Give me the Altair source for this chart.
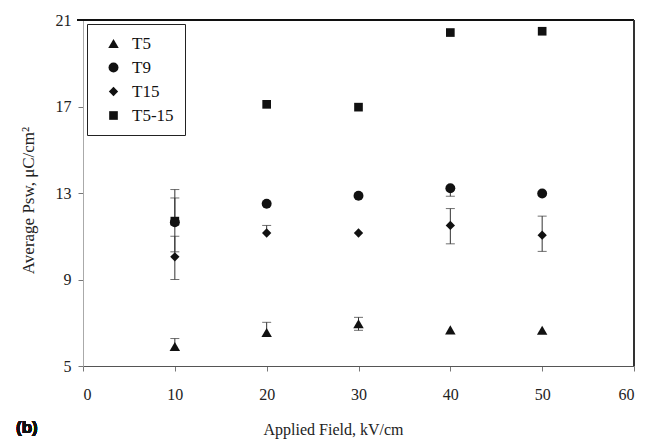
import altair as alt
import pandas as pd

# Applied field (kV/cm) and average switchable polarization per sample
fields = [10, 20, 30, 40, 50]
series = ["T5", "T9", "T15", "T5-15"]
shapes = ["triangle-up", "circle", "diamond", "square"]
sizes = [110, 75, 110, 65]

t5 = [5.9, 6.55, 6.95, 6.67, 6.65]
t9 = [11.65, 12.5, 12.87, 13.22, 12.98]
t15 = [10.05, 11.15, 11.15, 11.5, 11.05]
t5_15 = [11.7, 17.1, 16.97, 20.42, 20.48]

# error bar extents above / below each mean
t5_up = [0.37, 0.47, 0.3, 0.0, 0.0]
t5_dn = [0.0, 0.0, 0.3, 0.0, 0.0]
t9_up = [1.12, 0.0, 0.0, 0.0, 0.0]
t9_dn = [0.0, 0.0, 0.0, 0.37, 0.0]
t15_up = [0.95, 0.35, 0.0, 0.78, 0.88]
t15_dn = [1.05, 0.0, 0.0, 0.85, 0.75]
t5_15_up = [1.46, 0.0, 0.0, 0.0, 0.0]
t5_15_dn = [1.42, 0.0, 0.0, 0.0, 0.0]

values = [t5, t9, t15, t5_15]
ups = [t5_up, t9_up, t15_up, t5_15_up]
dns = [t5_dn, t9_dn, t15_dn, t5_15_dn]

rows, bars, caps = [], [], []
for name, vals, up, dn in zip(series, values, ups, dns):
    for f, v, u, d in zip(fields, vals, up, dn):
        rows.append({"field": f, "p": v, "sample": name})
        if u > 0 or d > 0:
            bars.append({"field": f, "lo": v - d, "hi": v + u})
        if u > 0:
            caps.append({"field": f, "cap": v + u})
        if d > 0:
            caps.append({"field": f, "cap": v - d})

pts = pd.DataFrame(rows)
err = pd.DataFrame(bars)
cap = pd.DataFrame(caps)

SERIF = "Liberation Serif"

x_scale = alt.Scale(domain=[0, 60], nice=False)
y_scale = alt.Scale(domain=[5, 21], nice=False, zero=False)

x_axis = alt.Axis(
    values=[0, 10, 20, 30, 40, 50, 60], grid=False, title="Applied Field, kV/cm",
    labelFont=SERIF, labelFontSize=16, labelColor="#222", labelPadding=15,
    tickSize=5, tickColor="#777", domainColor="#555", domainWidth=1.2,
    titleFont=SERIF, titleFontSize=16, titleFontWeight="normal", titleColor="#222",
    titleX=250, titleY=68, titleBaseline="alphabetic", titleAnchor="middle",
)
y_axis = alt.Axis(
    values=[5, 9, 13, 17, 21], grid=False, title="Average Psw, μC/cm²",
    labelFont=SERIF, labelFontSize=16, labelColor="#222", labelPadding=7,
    tickSize=5, tickColor="#777", domainColor="#aaa", domainWidth=1,
    titleFont=SERIF, titleFontSize=17, titleFontWeight="normal", titleColor="#222",
    titleX=-50, titleY=180, titleAngle=-90, titleBaseline="alphabetic",
)

whiskers = alt.Chart(err).mark_rule(color="#333", strokeWidth=1).encode(
    x=alt.X("field:Q", scale=x_scale, axis=x_axis),
    y=alt.Y("lo:Q", scale=y_scale, axis=y_axis),
    y2="hi:Q",
)

whisker_caps = alt.Chart(cap).mark_tick(
    orient="horizontal", color="#333", size=9, thickness=1
).encode(
    x=alt.X("field:Q", scale=x_scale, axis=x_axis),
    y=alt.Y("cap:Q", scale=y_scale, axis=y_axis),
)

sample_legend = alt.Legend(
    title=None, orient="none", legendX=4, legendY=4,
    fillColor="white", strokeColor="#222",
    padding=11, rowPadding=6, symbolOffset=7,
    labelFont=SERIF, labelFontSize=17, labelColor="#111", labelOffset=10,
    symbolFillColor="#111", symbolStrokeColor="#111",
)

points = alt.Chart(pts).mark_point(filled=True, color="#111", opacity=1).encode(
    x=alt.X("field:Q", scale=x_scale, axis=x_axis),
    y=alt.Y("p:Q", scale=y_scale, axis=y_axis),
    shape=alt.Shape("sample:N", scale=alt.Scale(domain=series, range=shapes),
                    legend=sample_legend),
    size=alt.Size("sample:N", scale=alt.Scale(domain=series, range=sizes),
                  legend=sample_legend),
)

# top and right edges of the plot frame
frame_top = alt.Chart(pts).mark_rule(color="#111", strokeWidth=1.6).encode(
    x=alt.value(-6), x2=alt.value(551), y=alt.value(0)
)
frame_right = alt.Chart(pts).mark_rule(color="#333", strokeWidth=1.3).encode(
    x=alt.value(551), y=alt.value(0), y2=alt.value(346)
)

# panel tag in the lower left corner
panel_tag = alt.Chart(pts).mark_text(
    text="(b)", font="Liberation Sans", fontWeight="bold", fontSize=17,
    color="#111", align="left", baseline="alphabetic",
).encode(x=alt.value(-67), y=alt.value(413))

chart = (
    alt.layer(whiskers, whisker_caps, points, frame_top, frame_right, panel_tag)
    .properties(
        width=551, height=346,
        autosize=alt.AutoSizeParams(type="none"),
        padding={"left": 83, "top": 20, "right": 12, "bottom": 74},
    )
    .configure_view(stroke=None)
    .configure_legend(strokeWidth=1.3)
    .configure(background="white")
)

chart.save("out.html", embed_options={"renderer": "svg", "actions": False})
